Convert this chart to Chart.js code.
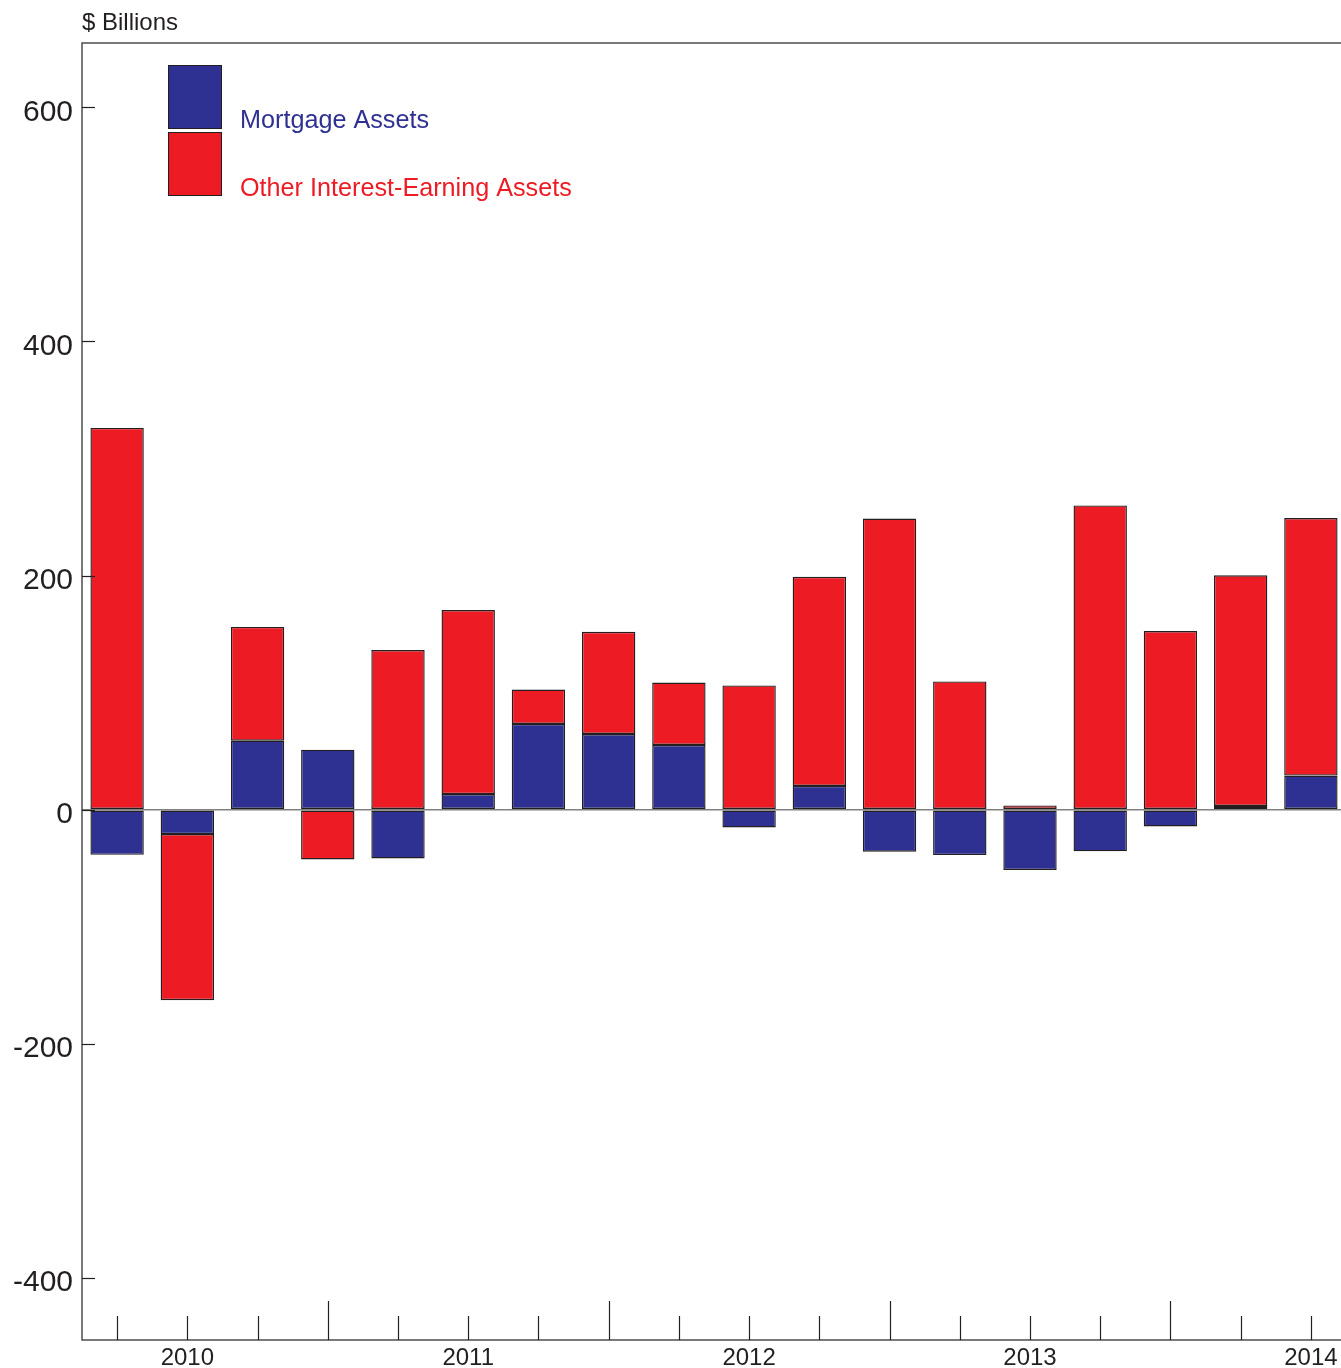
<!DOCTYPE html>
<html>
<head>
<meta charset="utf-8">
<script src="https://cdn.jsdelivr.net/npm/chart.js@4.4.1/dist/chart.umd.min.js"></script>
<style>
  html, body { margin: 0; padding: 0; background: #fff; overflow: hidden; }
  #wrap { width: 1346px; height: 1368px; }
</style>
</head>
<body>
<div id="wrap"><canvas id="myChart" width="1346" height="1368"></canvas></div>
<script>
// quarterly changes, $ billions
var quarters = ['2010 Q1', '2010 Q2', '2010 Q3', '2010 Q4',
                '2011 Q1', '2011 Q2', '2011 Q3', '2011 Q4',
                '2012 Q1', '2012 Q2', '2012 Q3', '2012 Q4',
                '2013 Q1', '2013 Q2', '2013 Q3', '2013 Q4',
                '2014 Q1', '2014 Q2'];
var mortgageAssets = [-38.5, -20.8, 59, 51.3, -41.6, 13.4, 73.3, 64.7, 55.3,
                      -15.2, 20.3, -35.8, -38.7, -51.5, -35.5, -14.3, 3.2, 29.2];
var otherAssets = [326.2, -141.9, 97.2, -42.5, 136.4, 157.2, 29.4, 87.3, 53.4,
                   106.2, 178.7, 248.7, 109.6, 3.7, 260, 152.6, 197.1, 220];
var yTicks = [-400, -200, 0, 200, 400, 600];

var BLUE = '#2E3192';
var RED = '#ED1C24';
var INK = '#231F20';
var FONT = "'Liberation Sans', Arial, sans-serif";

// frame, inward tick marks, legend and unit label
var decor = {
    id: 'decor',
    afterDraw: function(chart) {
        var c = chart.ctx;
        var a = chart.chartArea;
        var x = chart.scales.x;
        var y = chart.scales.y;
        c.save();
        c.strokeStyle = '#4D4D4F';
        c.lineWidth = 1.5;
        c.beginPath();
        c.moveTo(a.right + 2, a.top);
        c.lineTo(a.left, a.top);
        c.lineTo(a.left, a.bottom);
        c.lineTo(a.right + 2, a.bottom);
        c.stroke();

        c.strokeStyle = INK;
        c.lineWidth = 1.2;
        yTicks.forEach(function(v) {
            var py = Math.round(y.getPixelForValue(v)) + 0.5;
            c.beginPath();
            c.moveTo(a.left, py);
            c.lineTo(a.left + 13, py);
            c.stroke();
        });
        quarters.forEach(function(q, i) {
            var px = Math.round(x.getPixelForValue(i)) + 0.5;
            var len = q.slice(-2) === 'Q4' ? 39 : 24;
            c.beginPath();
            c.moveTo(px, a.bottom);
            c.lineTo(px, a.bottom - len);
            c.stroke();
        });

        // legend
        var items = [
            { label: 'Mortgage Assets', color: BLUE, top: 65, base: 128 },
            { label: 'Other Interest-Earning Assets', color: RED, top: 132, base: 196 }
        ];
        c.font = '25.2px ' + FONT;
        c.textAlign = 'left';
        c.textBaseline = 'alphabetic';
        items.forEach(function(it) {
            c.fillStyle = it.color;
            c.fillRect(168.5, it.top + 0.5, 53, 63);
            c.strokeStyle = INK;
            c.lineWidth = 1;
            c.strokeRect(168.5, it.top + 0.5, 53, 63);
            c.fillStyle = it.color;
            c.fillText(it.label, 240, it.base);
        });

        c.fillStyle = INK;
        c.font = '24px ' + FONT;
        c.fillText('$ Billions', 82, 30);
        c.restore();
    }
};

var ctx = document.getElementById('myChart').getContext('2d');
var myChart = new Chart(ctx, {
    type: 'bar',
    data: {
        labels: quarters,
        datasets: [{
            label: 'Mortgage Assets',
            data: mortgageAssets,
            backgroundColor: BLUE,
            borderColor: INK,
            borderWidth: 1.4,
            borderSkipped: false
        }, {
            label: 'Other Interest-Earning Assets',
            data: otherAssets,
            backgroundColor: RED,
            borderColor: INK,
            borderWidth: 1.4,
            borderSkipped: false
        }]
    },
    options: {
        responsive: false,
        animation: false,
        layout: { padding: { top: 43, right: 0, bottom: 0, left: 0 } },
        plugins: {
            legend: { display: false },
            title: { display: false },
            tooltip: { enabled: false }
        },
        datasets: {
            bar: { categoryPercentage: 1, barPercentage: 0.76 }
        },
        scales: {
            x: {
                stacked: true,
                grid: { display: false, drawTicks: false },
                border: { display: false },
                ticks: {
                    autoSkip: false,
                    maxRotation: 0,
                    padding: 4,
                    color: INK,
                    font: { family: FONT, size: 24 },
                    callback: function(v, i) {
                        var q = quarters[i];
                        return q.slice(-2) === 'Q2' ? q.slice(0, 4) : '';
                    }
                },
                afterFit: function(s) { s.height = 28; }
            },
            y: {
                stacked: true,
                min: -453,
                max: 655,
                afterBuildTicks: function(s) {
                    s.ticks = yTicks.map(function(v) { return { value: v }; });
                },
                grid: {
                    drawTicks: false,
                    lineWidth: 1.5,
                    color: function(c) {
                        return c.tick && c.tick.value === 0 ? '#808080' : 'rgba(0,0,0,0)';
                    }
                },
                border: { display: false },
                ticks: {
                    padding: 9,
                    labelOffset: 5,
                    color: INK,
                    font: { family: FONT, size: 30 }
                },
                afterFit: function(s) { s.width = 82; }
            }
        }
    },
    plugins: [decor]
});
</script>
</body>
</html>
